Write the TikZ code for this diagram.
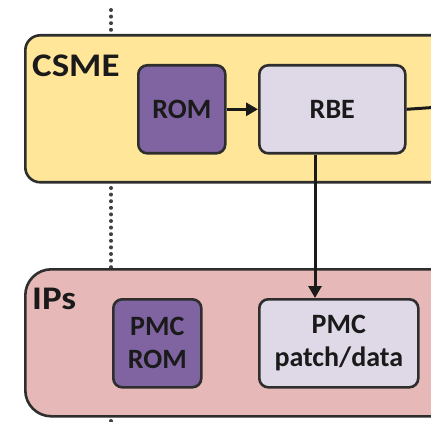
\documentclass[tikz,border=0pt]{standalone}
\usepackage{fontspec}
\setmainfont{Carlito}
\newfontfamily\titlefont[FakeStretch=1.12]{Carlito}
\usetikzlibrary{arrows.meta}
\definecolor{csmeyellow}{HTML}{FFE699}
\definecolor{ippink}{HTML}{E6B9B8}
\definecolor{rompurple}{HTML}{8064A2}
\definecolor{lavender}{HTML}{DED8E7}
\definecolor{edge}{HTML}{2E2E2E}
\definecolor{ink}{HTML}{1A1A1A}
\tikzset{
  region/.style={draw=edge, line width=2.6pt, anchor=north west, inner sep=0pt},
  block/.style={draw=edge, line width=2.6pt, rounded corners=9pt, anchor=north west,
    inner sep=0pt, align=center, text=ink, font=\bfseries\fontsize{28}{33}\selectfont},
  title/.style={anchor=north west, inner sep=0pt, text=ink, font=\titlefont\bfseries\fontsize{33}{34}\selectfont},
  link/.style={draw=ink, line width=3pt},
  arr/.style={link, -{Triangle[length=12pt,width=13pt]}},
  boundary/.style={draw=black!75, line width=4pt, line cap=round, dash pattern=on 0pt off 6.6pt}
}
\begin{document}
\begin{tikzpicture}[x=1pt,y=-1pt]
\useasboundingbox (0,0) rectangle (431,422);
\clip (0,0) rectangle (431,422);
% security boundary
\coordinate (b0) at (111,10);
\coordinate (b1) at (111,34);
\coordinate (b2) at (111,188);
\coordinate (b3) at (111,268);
\coordinate (b4) at (111,421);
\coordinate (b5) at (111,428);
\draw[boundary] (b0) -- (b1);
\draw[boundary] (b2) -- (b3);
\draw[boundary] (b4) -- (b5);
% containers
\node[region, fill=csmeyellow, rounded corners=15pt, minimum width=440pt, minimum height=147pt] (csme) at (24,34) {};
\node[region, fill=ippink, rounded corners=26pt, minimum width=440pt, minimum height=147pt] (ips) at (24,268) {};
\node[title] (csmelbl) at (32,55) {CSME};
\node[title] (ipslbl) at (32,288) {IPs};
% blocks
\node[block, fill=rompurple, minimum width=87pt, minimum height=88pt] (rom) at (137,64) {ROM};
\node[block, fill=lavender, minimum width=146pt, minimum height=88pt] (rbe) at (258,64) {RBE};
\node[block, fill=rompurple, minimum width=88pt, minimum height=88pt] (pmcrom) at (112,298) {PMC\\ROM};
\node[block, fill=lavender, minimum width=159pt, minimum height=88pt] (pmcpatch) at (258,298) {PMC\\patch/data};
\coordinate (out) at (440,107);
% connectors
\draw[arr] (rom.east) -- (rbe.west);
\draw[link] (rbe.east) -- (out);
\draw[arr] (rbe.south -| 315,0) -- (pmcpatch.north -| 315,0);
\end{tikzpicture}
\end{document}
